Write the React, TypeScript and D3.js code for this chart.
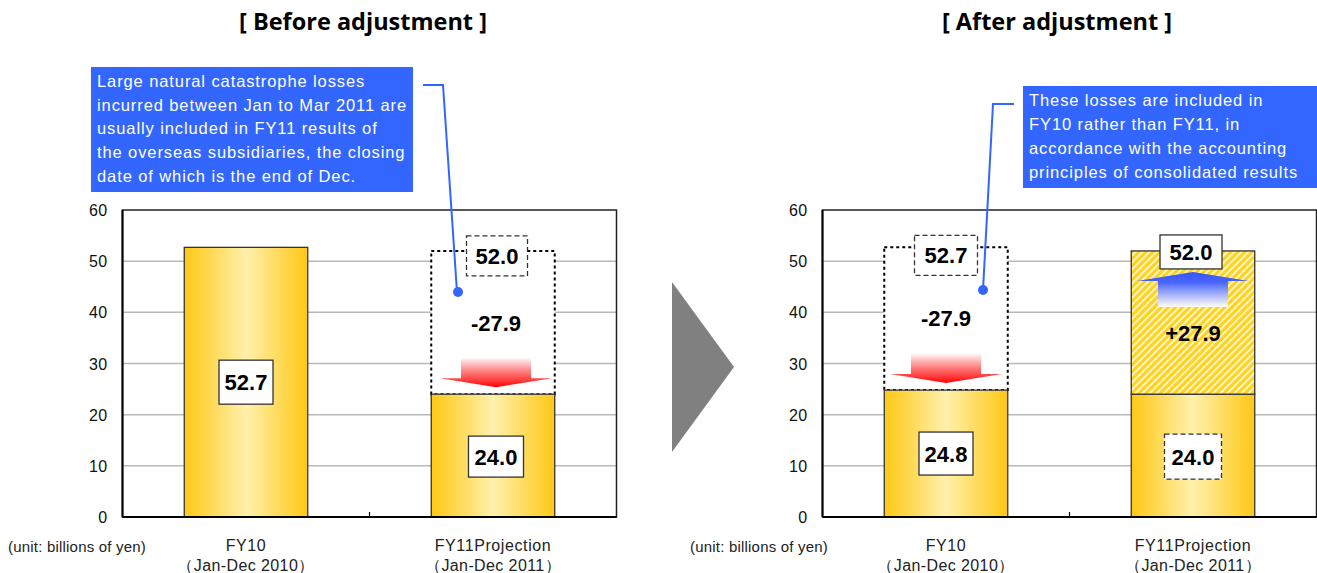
import React from "react";
import * as d3 from "d3";

// ---------- data ----------
const categories = ["FY10", "FY11Projection"];
const periods = ["（Jan-Dec 2010）", "（Jan-Dec 2011）"];
const yTicks = [0, 10, 20, 30, 40, 50, 60];
const beforeValues = [52.7, 24.0];
const beforeOriginal = [null, 52.0];
const afterValues = [24.8, 24.0];
const afterOriginal = [52.7, null];
const afterTotal = [null, 52.0];
const adjustment = 27.9;
const titles = ["[ Before adjustment ]", "[ After adjustment ]"];
const unitLabel = "(unit: billions of yen)";
const noteBefore = [
  "Large natural catastrophe losses",
  "incurred between Jan to Mar 2011 are",
  "usually included in FY11 results of",
  "the overseas subsidiaries, the closing",
  "date of which is the end of Dec.",
];
const noteAfter = [
  "These losses are included in",
  "FY10 rather than FY11, in",
  "accordance with the accounting",
  "principles of consolidated results",
];

const W = 1317;
const H = 573;
const FONT = "'Liberation Sans', Arial, sans-serif";
const y = d3.scaleLinear().domain([0, 60]).range([517, 210]);

function Frame({ x0, x1 }: { x0: number; x1: number }) {
  const x = d3.scaleBand<string>().domain(categories).range([x0, x1]).paddingInner(0.5).paddingOuter(0.25);
  const step = x.step();
  return (
    <g>
      {yTicks.filter((t) => t > 0 && t < 60).map((t) => (
        <line key={t} x1={x0} x2={x1} y1={y(t)} y2={y(t)} stroke="#b9b9b9" strokeWidth={1.5} />
      ))}
      {yTicks.map((t) => (
        <text key={t} x={x0 - 15} y={y(t) + 6} textAnchor="end" fontSize={16} fontFamily={FONT} fill="#111" letterSpacing={0.3}>
          {t}
        </text>
      ))}
      {categories.map((c, i) => (
        <g key={c}>
          <text x={(x(c) as number) + x.bandwidth() / 2} y={551} textAnchor="middle" fontSize={16} fontFamily={FONT} fill="#222" letterSpacing={0.6}>
            {c}
          </text>
          <text x={(x(c) as number) + x.bandwidth() / 2} y={571} textAnchor="middle" fontSize={16} fontFamily={FONT} fill="#222" letterSpacing={0.4}>
            {periods[i]}
          </text>
        </g>
      ))}
      <line x1={x0 + step} x2={x0 + step} y1={y(0)} y2={y(0) - 5} stroke="#000" strokeWidth={1.2} />
    </g>
  );
}

function FrameBorder({ x0, x1 }: { x0: number; x1: number }) {
  return (
    <g>
      <rect x={x0} y={y(60)} width={x1 - x0} height={y(0) - y(60)} fill="none" stroke="#222" strokeWidth={1.5} />
      <line x1={x0} x2={x0} y1={y(60)} y2={y(0)} stroke="#000" strokeWidth={2} />
      <line x1={x0} x2={x1} y1={y(0)} y2={y(0)} stroke="#000" strokeWidth={2} />
    </g>
  );
}

function ValueBox({ cx, cy, w, h, label, dashed }: { cx: number; cy: number; w: number; h: number; label: string; dashed?: boolean }) {
  return (
    <g>
      <rect x={cx - w / 2} y={cy - h / 2} width={w} height={h} fill="#fff" stroke="#333" strokeWidth={1.3} strokeDasharray={dashed ? "5,3" : undefined} />
      <text x={cx} y={cy + 8} textAnchor="middle" fontSize={22} fontWeight="bold" fontFamily={FONT} fill="#000">
        {label}
      </text>
    </g>
  );
}

function DownArrow({ cx, base }: { cx: number; base: number }) {
  const p = d3.path();
  p.moveTo(cx - 35, base - 37);
  p.lineTo(cx + 35, base - 37);
  p.lineTo(cx + 35, base - 16);
  p.lineTo(cx + 56, base - 16);
  p.lineTo(cx, base - 7);
  p.lineTo(cx - 56, base - 16);
  p.lineTo(cx - 35, base - 16);
  p.closePath();
  return <path d={p.toString()} fill="url(#redGrad)" />;
}

function UpArrow({ cx, top }: { cx: number; top: number }) {
  const p = d3.path();
  p.moveTo(cx, top + 21);
  p.lineTo(cx + 56, top + 30);
  p.lineTo(cx + 35, top + 30);
  p.lineTo(cx + 35, top + 56);
  p.lineTo(cx - 35, top + 56);
  p.lineTo(cx - 35, top + 30);
  p.lineTo(cx - 56, top + 30);
  p.closePath();
  return <path d={p.toString()} fill="url(#blueGrad)" />;
}

function Callout({ x, y0, w, h, lines, lh }: { x: number; y0: number; w: number; h: number; lines: string[]; lh: number }) {
  return (
    <g>
      <rect x={x} y={y0} width={w} height={h} fill="#3366ff" />
      {lines.map((l, i) => (
        <text key={i} x={x + 6} y={y0 + 20 + i * lh} fontSize={16.5} fontFamily={FONT} fill="#fff" letterSpacing={0.9}>
          {l}
        </text>
      ))}
    </g>
  );
}

export default function App() {
  const L0 = 122.5, L1 = 616.5;
  const R0 = 822.5, R1 = 1316.5;
  const xL = d3.scaleBand<string>().domain(categories).range([L0, L1]).paddingInner(0.5).paddingOuter(0.25);
  const xR = d3.scaleBand<string>().domain(categories).range([R0, R1]).paddingInner(0.5).paddingOuter(0.25);
  const bw = xL.bandwidth();
  const cxL = categories.map((c) => (xL(c) as number) + bw / 2);
  const cxR = categories.map((c) => (xR(c) as number) + bw / 2);
  const total = afterTotal[1] as number;

  return (
    <svg width={W} height={H} style={{ position: "absolute", left: 0, top: 0, background: "#fff" }}>
      <defs>
        <linearGradient id="barGrad" x1="0" x2="1" y1="0" y2="0">
          <stop offset="0" stopColor="#ffc814" />
          <stop offset="0.5" stopColor="#fff0ac" />
          <stop offset="1" stopColor="#ffc814" />
        </linearGradient>
        <linearGradient id="redGrad" x1="0" x2="0" y1="0" y2="1">
          <stop offset="0" stopColor="#ff0000" stopOpacity={0} />
          <stop offset="0.75" stopColor="#ff2020" stopOpacity={0.85} />
          <stop offset="1" stopColor="#ff0000" stopOpacity={1} />
        </linearGradient>
        <linearGradient id="blueGrad" x1="0" x2="0" y1="0" y2="1">
          <stop offset="0" stopColor="#3355ff" />
          <stop offset="0.3" stopColor="#4a66ff" />
          <stop offset="1" stopColor="#ffffff" stopOpacity={0.95} />
        </linearGradient>
        <pattern id="hatch" width={5} height={5} patternUnits="userSpaceOnUse" patternTransform="rotate(45)">
          <rect width={5} height={5} fill="#ffd21e" />
          <rect width={1.8} height={5} fill="#fff8d8" />
        </pattern>
      </defs>

      {/* titles */}
      <text x={363} y={30} textAnchor="middle" fontSize={23.5} fontWeight="bold" fontFamily="'Open Sans', sans-serif" fill="#000">
        {titles[0]}
      </text>
      <text x={1057} y={30} textAnchor="middle" fontSize={23.5} fontWeight="bold" fontFamily="'Open Sans', sans-serif" fill="#000">
        {titles[1]}
      </text>

      {/* ---------- BEFORE ---------- */}
      <Frame x0={L0} x1={L1} />
      {beforeOriginal.map((v, i) =>
        v == null ? null : (
          <rect key={i} x={xL(categories[i])} y={y(v)} width={bw} height={y(beforeValues[i]) - y(v)} fill="#fff" stroke="#000" strokeWidth={2} strokeDasharray="3,3" />
        )
      )}
      {beforeValues.map((v, i) => (
        <rect key={i} x={xL(categories[i])} y={y(v)} width={bw} height={y(0) - y(v)} fill="url(#barGrad)" stroke="#333" strokeWidth={1.3} />
      ))}
      <DownArrow cx={cxL[1] + 3} base={y(beforeValues[1])} />
      <FrameBorder x0={L0} x1={L1} />
      <ValueBox cx={cxL[0]} cy={(y(beforeValues[0]) + y(0)) / 2} w={54} h={44} label={beforeValues[0].toFixed(1)} />
      <ValueBox cx={cxL[1] + 3} cy={(y(beforeValues[1]) + y(0)) / 2 + 1} w={55} h={41} label={beforeValues[1].toFixed(1)} />
      <ValueBox cx={cxL[1] + 4} cy={y(beforeOriginal[1] as number) + 5} w={61} h={40} label={(beforeOriginal[1] as number).toFixed(1)} dashed />
      <text x={cxL[1] + 3} y={331} textAnchor="middle" fontSize={22} fontWeight="bold" fontFamily={FONT}>
        {"-" + adjustment.toFixed(1)}
      </text>

      <Callout x={91} y0={67} w={322} h={125} lines={noteBefore} lh={23.7} />
      <polyline points="423,85 443,85 457,292" fill="none" stroke="#3366ff" strokeWidth={2} />
      <circle cx={458} cy={292} r={5} fill="#3366ff" />

      <text x={8} y={552} fontSize={15} fontFamily={FONT} fill="#222" letterSpacing={0.2}>{unitLabel}</text>

      {/* arrow between panels */}
      <polygon points="672,282 734,367 672,452" fill="#808080" />

      {/* ---------- AFTER ---------- */}
      <Frame x0={R0} x1={R1} />
      {afterOriginal.map((v, i) =>
        v == null ? null : (
          <rect key={i} x={xR(categories[i])} y={y(v)} width={bw} height={y(afterValues[i]) - y(v)} fill="#fff" stroke="#000" strokeWidth={2} strokeDasharray="3,3" />
        )
      )}
      {afterValues.map((v, i) => (
        <rect key={i} x={xR(categories[i])} y={y(v)} width={bw} height={y(0) - y(v)} fill="url(#barGrad)" stroke="#333" strokeWidth={1.3} />
      ))}
      <rect x={xR(categories[1])} y={y(total)} width={bw} height={y(afterValues[1]) - y(total)} fill="url(#hatch)" stroke="#333" strokeWidth={1.3} />
      <DownArrow cx={cxR[0]} base={y(afterValues[0])} />
      <UpArrow cx={cxR[1]} top={y(total)} />
      <FrameBorder x0={R0} x1={R1} />
      <ValueBox cx={cxR[0]} cy={(y(afterValues[0]) + y(0)) / 2} w={54} h={43} label={afterValues[0].toFixed(1)} />
      <ValueBox cx={cxR[1]} cy={(y(afterValues[1]) + y(0)) / 2 + 1} w={57} h={45} label={afterValues[1].toFixed(1)} dashed />
      <ValueBox cx={cxR[0]} cy={y(afterOriginal[0] as number) + 8} w={63} h={40} label={(afterOriginal[0] as number).toFixed(1)} dashed />
      <ValueBox cx={cxR[1] - 2} cy={y(total) + 1} w={62} h={34} label={total.toFixed(1)} />
      <text x={cxR[0]} y={326} textAnchor="middle" fontSize={22} fontWeight="bold" fontFamily={FONT}>
        {"-" + adjustment.toFixed(1)}
      </text>
      <text x={cxR[1]} y={341} textAnchor="middle" fontSize={22} fontWeight="bold" fontFamily={FONT}>
        {"+" + adjustment.toFixed(1)}
      </text>

      <Callout x={1023} y0={86} w={300} h={102} lines={noteAfter} lh={24} />
      <polyline points="1014,104 993,104 983,290" fill="none" stroke="#3366ff" strokeWidth={2} />
      <circle cx={983} cy={290} r={5} fill="#3366ff" />

      <text x={690} y={552} fontSize={15} fontFamily={FONT} fill="#222" letterSpacing={0.2}>{unitLabel}</text>
    </svg>
  );
}
